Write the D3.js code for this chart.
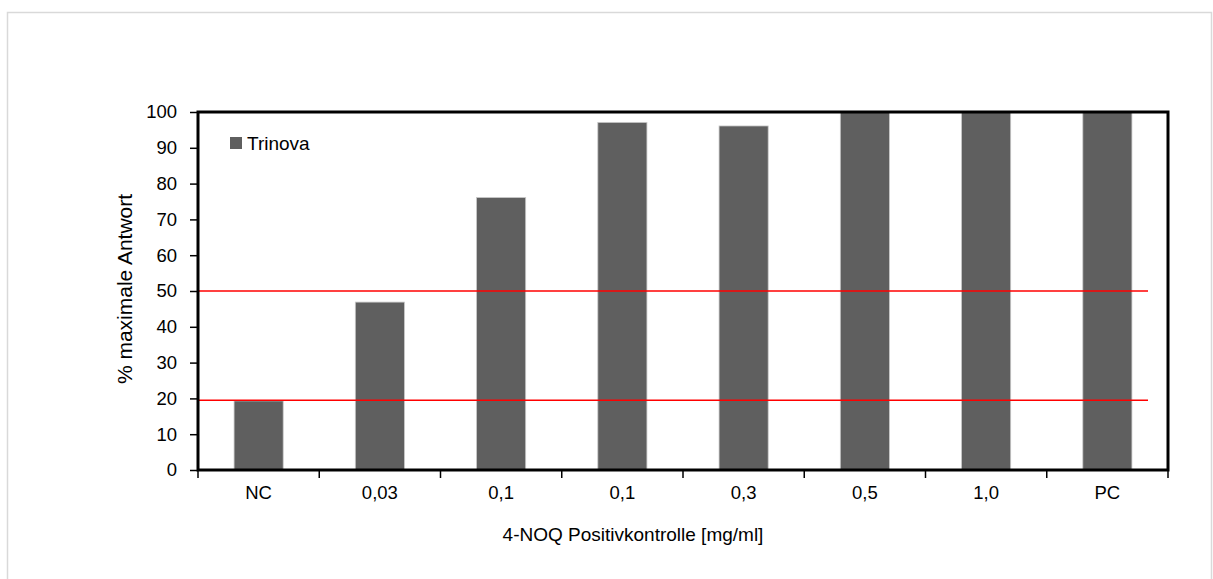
<!DOCTYPE html>
<html>
<head>
<meta charset="utf-8">
<script src="https://cdn.jsdelivr.net/npm/d3@7"></script>
<style>
  html, body { margin: 0; padding: 0; background: #fff; }
  svg { display: block; font-family: "Liberation Sans", Arial, sans-serif; }
</style>
</head>
<body>
<script>
'use strict';
// chart values
const categories = ['NC', '0,03', '0,1', '0,1', '0,3', '0,5', '1,0', 'PC'];
const trinova = [19.3, 46.9, 76.1, 97.1, 96.1, 100, 100, 100];
const thresholds = [50, 19.5];
const yTicks = [0, 10, 20, 30, 40, 50, 60, 70, 80, 90, 100];
const seriesName = 'Trinova';
const xTitle = '4-NOQ Positivkontrolle [mg/ml]';
const yTitle = '% maximale Antwort';

(function () {
  const W = 1213, H = 579;
  const left = 198, right = 1168, top = 112, bottom = 470;

  const svg = d3.select('body').append('svg')
    .attr('width', W)
    .attr('height', H);

  // outer chart frame (light grey)
  svg.append('rect')
    .attr('x', 7.5).attr('y', 12.5)
    .attr('width', 1204).attr('height', 600)
    .attr('fill', 'none')
    .attr('stroke', '#d9d9d9')
    .attr('stroke-width', 1.5);

  const x = d3.scaleBand()
    .domain(d3.range(categories.length))
    .range([left, right])
    .padding(0);

  const y = d3.scaleLinear()
    .domain([0, 100])
    .range([bottom, top]);

  const barW = x.bandwidth() * 0.405;

  // bars
  svg.selectAll('.bar')
    .data(trinova)
    .enter()
    .append('rect')
    .attr('class', 'bar')
    .attr('x', (d, i) => x(i) + x.bandwidth() / 2 - barW / 2)
    .attr('y', d => y(d))
    .attr('width', barW)
    .attr('height', d => y(0) - y(d))
    .attr('fill', '#5f5f5f')
    .attr('stroke', '#c8c8c8')
    .attr('stroke-width', 0.8);

  // threshold lines
  svg.selectAll('.thr')
    .data(thresholds)
    .enter()
    .append('line')
    .attr('class', 'thr')
    .attr('x1', left)
    .attr('x2', right - 20)
    .attr('y1', d => y(d))
    .attr('y2', d => y(d))
    .attr('stroke', '#ff0000')
    .attr('stroke-width', 1.6);

  // plot frame
  svg.append('rect')
    .attr('x', left).attr('y', top)
    .attr('width', right - left).attr('height', bottom - top)
    .attr('fill', 'none')
    .attr('stroke', '#000')
    .attr('stroke-width', 3);

  // y axis
  const yAxis = svg.append('g')
    .attr('transform', `translate(${left},0)`)
    .call(d3.axisLeft(y).tickValues(yTicks).tickSize(8).tickPadding(13));
  yAxis.select('.domain').remove();
  yAxis.selectAll('line').attr('stroke', '#000').attr('stroke-width', 1.5);
  yAxis.selectAll('text')
    .attr('font-size', 18.5)
    .attr('fill', '#000')
    .style('font-family', '"Liberation Sans", Arial, sans-serif');

  // x axis ticks (between categories)
  const bounds = categories.map((c, i) => x(i)).concat([right]);
  svg.selectAll('.xtick')
    .data(bounds)
    .enter()
    .append('line')
    .attr('class', 'xtick')
    .attr('x1', d => d).attr('x2', d => d)
    .attr('y1', bottom).attr('y2', bottom + 8)
    .attr('stroke', '#000')
    .attr('stroke-width', 1.5);

  svg.selectAll('.xlab')
    .data(categories)
    .enter()
    .append('text')
    .attr('class', 'xlab')
    .attr('x', (d, i) => x(i) + x.bandwidth() / 2)
    .attr('y', 499)
    .attr('text-anchor', 'middle')
    .attr('font-size', 18.5)
    .text(d => d);

  // axis titles
  svg.append('text')
    .attr('x', 633)
    .attr('y', 541)
    .attr('text-anchor', 'middle')
    .attr('font-size', 19)
    .text(xTitle);

  svg.append('text')
    .attr('transform', `translate(132,${(top + bottom) / 2 - 2}) rotate(-90)`)
    .attr('text-anchor', 'middle')
    .attr('font-size', 21)
    .text(yTitle);

  // legend
  const lg = svg.append('g').attr('transform', 'translate(230,137)');
  lg.append('rect')
    .attr('width', 12).attr('height', 12)
    .attr('fill', '#5f5f5f');
  lg.append('text')
    .attr('x', 17).attr('y', 13)
    .attr('font-size', 19)
    .text(seriesName);
})();
</script>
</body>
</html>
